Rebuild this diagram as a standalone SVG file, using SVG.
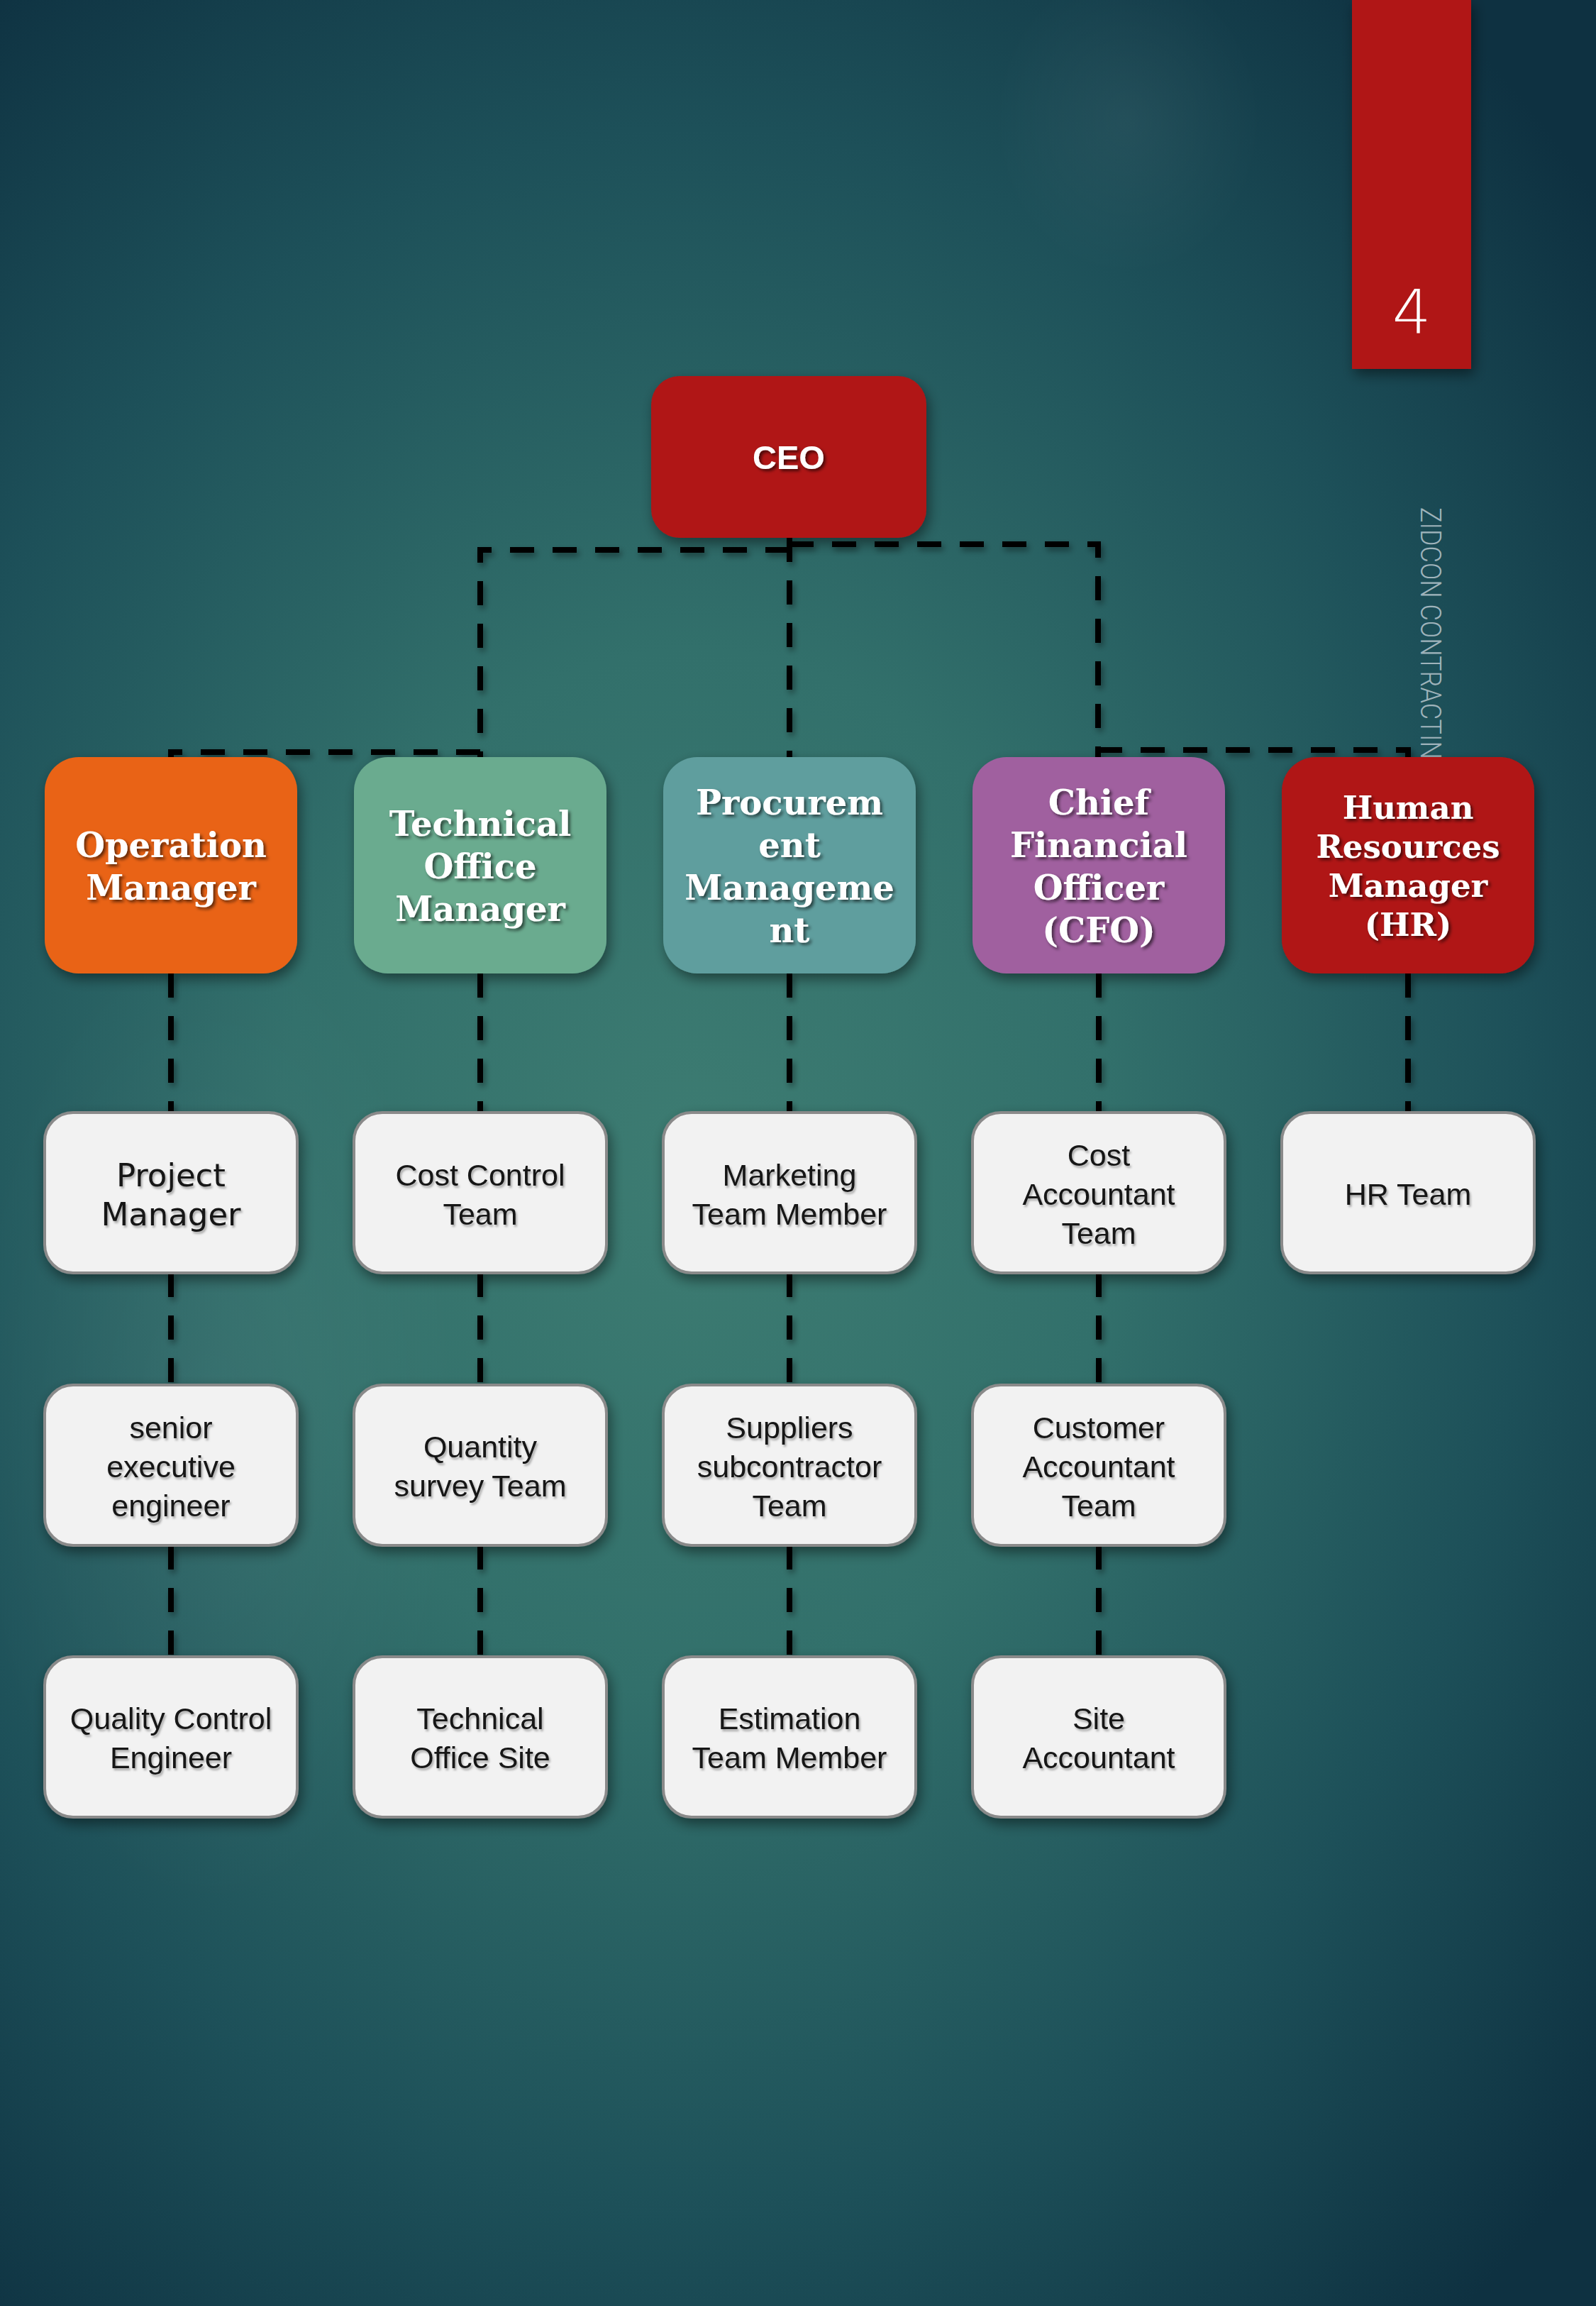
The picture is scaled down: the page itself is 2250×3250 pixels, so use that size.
<svg xmlns="http://www.w3.org/2000/svg" width="2250" height="3250" viewBox="0 0 2250 3250">
<defs>
<radialGradient id="bg" gradientUnits="userSpaceOnUse" cx="980" cy="1650" r="2100" gradientTransform="translate(980 1650) scale(0.8 1) translate(-980 -1650)">
<stop offset="0" stop-color="#3d7c72"/>
<stop offset="0.35" stop-color="#32706b"/>
<stop offset="0.7" stop-color="#1d5059"/>
<stop offset="1" stop-color="#0e3141"/>
</radialGradient>
<radialGradient id="glow" cx="0.5" cy="0.5" r="0.5">
<stop offset="0" stop-color="#ffffff" stop-opacity="0.05"/>
<stop offset="1" stop-color="#ffffff" stop-opacity="0"/>
</radialGradient>
<filter id="shadow" x="-20%" y="-20%" width="150%" height="150%">
<feDropShadow dx="4" dy="8" stdDeviation="9" flood-color="#000" flood-opacity="0.45"/>
</filter>
<filter id="lshadow" x="-5%" y="-5%" width="120%" height="120%">
<feDropShadow dx="3" dy="5" stdDeviation="4" flood-color="#000" flood-opacity="0.4"/>
</filter>
<filter id="tshadow" x="-10%" y="-10%" width="130%" height="140%">
<feDropShadow dx="3" dy="3" stdDeviation="2" flood-color="#000" flood-opacity="0.6"/>
</filter>
<filter id="dshadow" x="-10%" y="-10%" width="130%" height="140%">
<feDropShadow dx="2" dy="3" stdDeviation="1.5" flood-color="#000" flood-opacity="0.3"/>
</filter>
<style>
.lead text{font-family:"DejaVu Serif","Liberation Serif",serif;font-weight:bold;font-size:48px;fill:#ffffff;text-anchor:middle}
.hr text{font-size:45px}
.ceo text{font-family:"Liberation Sans",Arial,sans-serif;font-size:47px}
.box rect{fill:#f2f2f2;stroke:#8a8a8a;stroke-width:4}
.box text{font-family:"Liberation Sans",Arial,sans-serif;font-size:43px;fill:#141414;text-anchor:middle}
.box text.geo{font-family:"DejaVu Sans",sans-serif;font-size:45px}
.conn path{fill:none;stroke:#000000;stroke-width:8;stroke-dasharray:34 26}
</style>
</defs>
<rect x="0" y="0" width="2250" height="3250" fill="url(#bg)"/>
<ellipse cx="1590" cy="170" rx="190" ry="220" fill="url(#glow)"/>
<ellipse cx="300" cy="2000" rx="350" ry="700" fill="url(#glow)"/>

<g id="page-tab" filter="url(#shadow)">
<rect x="1906" y="0" width="168" height="520" fill="#b01515"/>
</g>
<text x="1990" y="470" font-family="DejaVu Sans,sans-serif" font-weight="300" font-size="86" fill="#ffffff" text-anchor="middle">4</text>
<text transform="translate(2003 715) rotate(90)" font-family="Roboto,Liberation Sans,sans-serif" font-weight="300" font-size="41" fill="#9fb3bb" textLength="355" lengthAdjust="spacingAndGlyphs">ZIDCON CONTRACTIN</text>

<g id="connectors" class="conn" filter="url(#lshadow)">
<path d="M1113,775 H677 V1067"/>
<path d="M677,1060 H241 V1067"/>
<path d="M1113,758 V1067"/>
<path d="M1113,767 H1548 V1067"/>
<path d="M1548,1057 H1985 V1067"/>
<path d="M241,1372 V1568 M241,1794 V1952 M241,2178 V2335"/>
<path d="M677,1372 V1568 M677,1794 V1952 M677,2178 V2335"/>
<path d="M1113,1372 V1568 M1113,1794 V1952 M1113,2178 V2335"/>
<path d="M1549,1372 V1568 M1549,1794 V1952 M1549,2178 V2335"/>
<path d="M1985,1372 V1568"/>
</g>

<g id="ceo" class="lead ceo">
<rect x="918" y="530" width="388" height="228" rx="40" fill="#b01515" filter="url(#shadow)"/>
<text x="1112" y="661" filter="url(#tshadow)">CEO</text>
</g>

<g id="operation-manager" class="lead">
<rect x="63" y="1067" width="356" height="305" rx="48" fill="#e96316" filter="url(#shadow)"/>
<g filter="url(#tshadow)"><text x="241" y="1208">Operation</text><text x="241" y="1268">Manager</text></g>
</g>
<g id="technical-office-manager" class="lead">
<rect x="499" y="1067" width="356" height="305" rx="48" fill="#6aab8f" filter="url(#shadow)"/>
<g filter="url(#tshadow)"><text x="677" y="1178">Technical</text><text x="677" y="1238">Office</text><text x="677" y="1298">Manager</text></g>
</g>
<g id="procurement-management" class="lead">
<rect x="935" y="1067" width="356" height="305" rx="48" fill="#5f9e9e" filter="url(#shadow)"/>
<g filter="url(#tshadow)"><text x="1113" y="1148">Procurem</text><text x="1113" y="1208">ent</text><text x="1113" y="1268">Manageme</text><text x="1113" y="1328">nt</text></g>
</g>
<g id="cfo" class="lead">
<rect x="1371" y="1067" width="356" height="305" rx="48" fill="#a0609f" filter="url(#shadow)"/>
<g filter="url(#tshadow)"><text x="1549" y="1148">Chief</text><text x="1549" y="1208">Financial</text><text x="1549" y="1268">Officer</text><text x="1549" y="1328">(CFO)</text></g>
</g>
<g id="hr-manager" class="lead hr">
<rect x="1807" y="1067" width="356" height="305" rx="48" fill="#b01515" filter="url(#shadow)"/>
<g filter="url(#tshadow)"><text x="1985" y="1154">Human</text><text x="1985" y="1209">Resources</text><text x="1985" y="1264">Manager</text><text x="1985" y="1319">(HR)</text></g>
</g>

<g id="project-manager" class="box">
<rect x="63" y="1568" width="356" height="226" rx="40" filter="url(#shadow)"/>
<g filter="url(#dshadow)"><text class="geo" x="241" y="1672">Project</text><text class="geo" x="241" y="1727">Manager</text></g>
</g>
<g id="cost-control-team" class="box">
<rect x="499" y="1568" width="356" height="226" rx="40" filter="url(#shadow)"/>
<g filter="url(#dshadow)"><text x="677" y="1671">Cost Control</text><text x="677" y="1726">Team</text></g>
</g>
<g id="marketing-team-member" class="box">
<rect x="935" y="1568" width="356" height="226" rx="40" filter="url(#shadow)"/>
<g filter="url(#dshadow)"><text x="1113" y="1671">Marketing</text><text x="1113" y="1726">Team Member</text></g>
</g>
<g id="cost-accountant-team" class="box">
<rect x="1371" y="1568" width="356" height="226" rx="40" filter="url(#shadow)"/>
<g filter="url(#dshadow)"><text x="1549" y="1643">Cost</text><text x="1549" y="1698">Accountant</text><text x="1549" y="1753">Team</text></g>
</g>
<g id="hr-team" class="box">
<rect x="1807" y="1568" width="356" height="226" rx="40" filter="url(#shadow)"/>
<g filter="url(#dshadow)"><text x="1985" y="1698">HR Team</text></g>
</g>

<g id="senior-executive-engineer" class="box">
<rect x="63" y="1952" width="356" height="226" rx="40" filter="url(#shadow)"/>
<g filter="url(#dshadow)"><text x="241" y="2027">senior</text><text x="241" y="2082">executive</text><text x="241" y="2137">engineer</text></g>
</g>
<g id="quantity-survey-team" class="box">
<rect x="499" y="1952" width="356" height="226" rx="40" filter="url(#shadow)"/>
<g filter="url(#dshadow)"><text x="677" y="2054">Quantity</text><text x="677" y="2109">survey Team</text></g>
</g>
<g id="suppliers-subcontractor-team" class="box">
<rect x="935" y="1952" width="356" height="226" rx="40" filter="url(#shadow)"/>
<g filter="url(#dshadow)"><text x="1113" y="2027">Suppliers</text><text x="1113" y="2082">subcontractor</text><text x="1113" y="2137">Team</text></g>
</g>
<g id="customer-accountant-team" class="box">
<rect x="1371" y="1952" width="356" height="226" rx="40" filter="url(#shadow)"/>
<g filter="url(#dshadow)"><text x="1549" y="2027">Customer</text><text x="1549" y="2082">Accountant</text><text x="1549" y="2137">Team</text></g>
</g>

<g id="quality-control-engineer" class="box">
<rect x="63" y="2335" width="356" height="226" rx="40" filter="url(#shadow)"/>
<g filter="url(#dshadow)"><text x="241" y="2437">Quality Control</text><text x="241" y="2492">Engineer</text></g>
</g>
<g id="technical-office-site" class="box">
<rect x="499" y="2335" width="356" height="226" rx="40" filter="url(#shadow)"/>
<g filter="url(#dshadow)"><text x="677" y="2437">Technical</text><text x="677" y="2492">Office Site</text></g>
</g>
<g id="estimation-team-member" class="box">
<rect x="935" y="2335" width="356" height="226" rx="40" filter="url(#shadow)"/>
<g filter="url(#dshadow)"><text x="1113" y="2437">Estimation</text><text x="1113" y="2492">Team Member</text></g>
</g>
<g id="site-accountant" class="box">
<rect x="1371" y="2335" width="356" height="226" rx="40" filter="url(#shadow)"/>
<g filter="url(#dshadow)"><text x="1549" y="2437">Site</text><text x="1549" y="2492">Accountant</text></g>
</g>
</svg>
